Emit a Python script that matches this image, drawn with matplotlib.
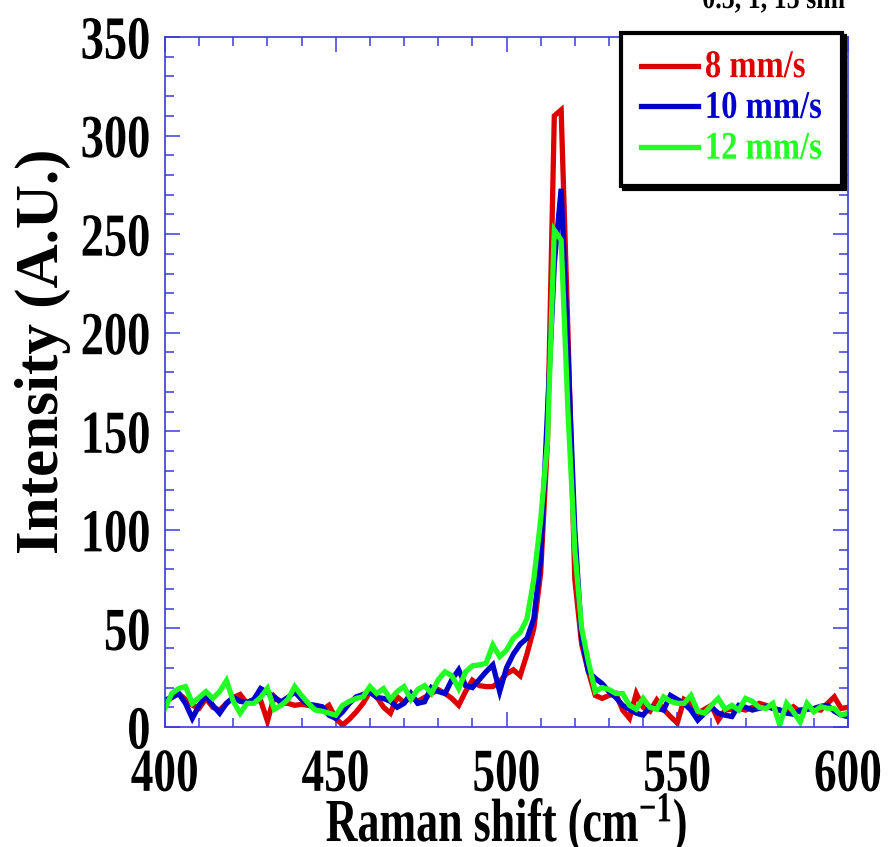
import numpy as np
import matplotlib
matplotlib.use('Agg')
import matplotlib.pyplot as plt
from matplotlib.patheffects import AbstractPathEffect
from matplotlib.transforms import Affine2D

# Raman spectra, shift in cm-1, intensity in A.U.
shift = np.arange(400, 601, 2)

i_8 = [12, 15, 17, 14, 11, 9.5, 14.5, 10, 8.5, 12,
       15, 16.5, 12, 13, 13.5, 3, 15.5, 12, 12, 11,
       11.5, 11, 10, 8.6, 11, 4.4, 1, 4, 7.7, 12,
       17.8, 15.3, 10, 7, 15.3, 12.5, 15.3, 13, 15, 17,
       19, 17, 14.5, 11, 18, 23.7, 21, 20.5, 20.5, 23,
       27, 29, 26, 37, 50, 78, 145, 310, 313, 200,
       75, 42, 28, 16, 14.5, 16, 17, 8.6, 4.4, 17,
       10, 8, 13.7, 9, 5.3, 2, 14, 12, 7, 9,
       11, 3.5, 8.6, 9, 9.4, 8.6, 10, 12, 11, 9.4,
       8.5, 8, 10.3, 7.7, 9.4, 9, 8.6, 12, 15.3, 9.4,
       10]

i_10 = [13.7, 15, 17, 12, 4.4, 11, 16, 11, 7, 12,
        15, 13, 12.5, 14, 19.5, 17.5, 15, 12.8, 15, 17.8,
        14, 11.5, 11, 10.3, 6, 4.4, 7.7, 12, 15.3, 16.5,
        17.8, 15, 14.5, 13, 10, 12, 17, 12, 12.8, 20,
        18, 17, 24, 29, 21, 20, 24, 28, 31.5, 18,
        30, 37, 42, 45, 55, 85, 160, 235, 273, 190,
        100, 45, 28, 24.7, 22, 18, 15, 11, 9, 7,
        6, 10.3, 9.5, 8.6, 16, 14, 12, 8.6, 3.5, 7,
        10, 7, 6, 5.3, 11, 10, 8.6, 9.5, 10.3, 9.5,
        8.6, 7, 6.5, 8.6, 9, 9.4, 10.5, 11, 8, 6,
        5.3]

i_12 = [9.5, 17, 19.5, 20.5, 12, 15, 18, 14.5, 18, 23.5,
        13, 7, 12, 12, 15, 19.6, 9, 11, 14, 20.5,
        16, 12, 8.6, 8, 7, 6, 11, 13, 14.5, 15.3,
        20.5, 17, 19.5, 14, 18, 20.5, 14, 19, 21, 17,
        24, 28, 26, 19.5, 28, 31, 31.5, 32.3, 41.6, 35.7,
        39, 45, 48, 55, 75, 105, 145, 252, 247, 160,
        90, 50, 33, 18, 20, 19, 17, 17, 11, 9,
        14.5, 10, 9, 15.3, 13, 12, 12, 16, 8, 7,
        11, 14.5, 9, 11, 8.6, 14.5, 13, 10, 9.4, 12,
        1, 12, 7.7, 2.5, 12, 7.7, 10.3, 9.5, 9.4, 6,
        7]

labels = ['8 mm/s', '10 mm/s', '12 mm/s']
colors = ['#dd0000', '#0000cc', '#22ff22']
xticks = [400, 450, 500, 550, 600]
yticks = [0, 50, 100, 150, 200, 250, 300, 350]


class Squeeze(AbstractPathEffect):
    # rescale the glyphs (sideways around an anchor, upwards from the baseline)
    # to get the condensed Times look of the original
    def __init__(self, sx, anchor='center', sy=1.0):
        super().__init__()
        self.sx = sx
        self.sy = sy
        self.anchor = anchor

    def draw_path(self, renderer, gc, tpath, affine, rgbFace=None):
        ext = tpath.get_extents()
        cx = {'left': ext.x0, 'center': (ext.x0 + ext.x1) / 2, 'right': ext.x1}[self.anchor]
        t = Affine2D().translate(-cx, 0).scale(self.sx, self.sy).translate(cx, 0) + affine
        renderer.draw_path(gc, tpath, t, rgbFace)


plt.rcParams['font.family'] = ['Liberation Serif', 'DejaVu Serif']
plt.rcParams['font.weight'] = 'bold'
plt.rcParams['axes.labelweight'] = 'bold'
plt.rcParams['mathtext.fontset'] = 'custom'
plt.rcParams['mathtext.rm'] = 'Liberation Serif:bold'
plt.rcParams['mathtext.it'] = 'Liberation Serif:bold'
plt.rcParams['mathtext.bf'] = 'Liberation Serif:bold'

axcol = '#3a3adc'

fig = plt.figure(figsize=(8.9, 8.47), dpi=100)
ax = fig.add_axes([165 / 890, 120 / 847, 683 / 890, 690 / 847])

for y, lab, c in zip([i_8, i_10, i_12], labels, colors):
    ax.plot(shift, y, color=c, lw=3.8, label=lab, solid_joinstyle='miter')

ax.set_xlim(400, 600)
ax.set_ylim(0, 350)
ax.set_xticks(xticks)
ax.set_yticks(yticks)
ax.set_xticks(np.arange(400, 601, 10), minor=True)
ax.set_yticks(np.arange(0, 351, 10), minor=True)
ax.tick_params(which='both', direction='in', top=True, right=True, color=axcol, width=1.1)
ax.tick_params(which='major', length=11)
ax.tick_params(which='minor', length=6.5)
ax.tick_params(axis='x', which='major', labelsize=44, pad=15)
ax.tick_params(axis='y', which='major', labelsize=44, pad=10)
for s in ax.spines.values():
    s.set_color(axcol)
    s.set_linewidth(1.2)

for t in ax.get_xticklabels():
    t.set_path_effects([Squeeze(0.74, 'center')])
for t in ax.get_yticklabels():
    t.set_path_effects([Squeeze(0.76, 'right')])

xl = ax.set_xlabel('Raman shift (cm$^{-1}$)', fontsize=44, labelpad=-8)
xl.set_path_effects([Squeeze(0.72, 'center')])
ax.set_ylabel('Intensity (A.U.)', fontsize=44)
ax.yaxis.set_label_coords(-0.138, 0.545)

leg = ax.legend(loc='upper right', bbox_to_anchor=(0.991, 1.006), borderaxespad=0,
                fontsize=23.5, labelcolor='linecolor', fancybox=False, framealpha=1,
                edgecolor='black', handlelength=1.75, handletextpad=0.2,
                borderpad=0.62, labelspacing=0.3,
                shadow={'color': 'black', 'alpha': 1})
leg.get_frame().set_linewidth(3)
for t in leg.get_texts():
    t.set_path_effects([Squeeze(1.0, 'left', sy=1.2)])

top = fig.text(845 / 890, 1 - 8 / 847, '0.5, 1, 15 sim', ha='right', va='baseline',
               fontsize=22)
top.set_path_effects([Squeeze(0.85, 'right')])

fig.savefig('out.png', dpi=100)
